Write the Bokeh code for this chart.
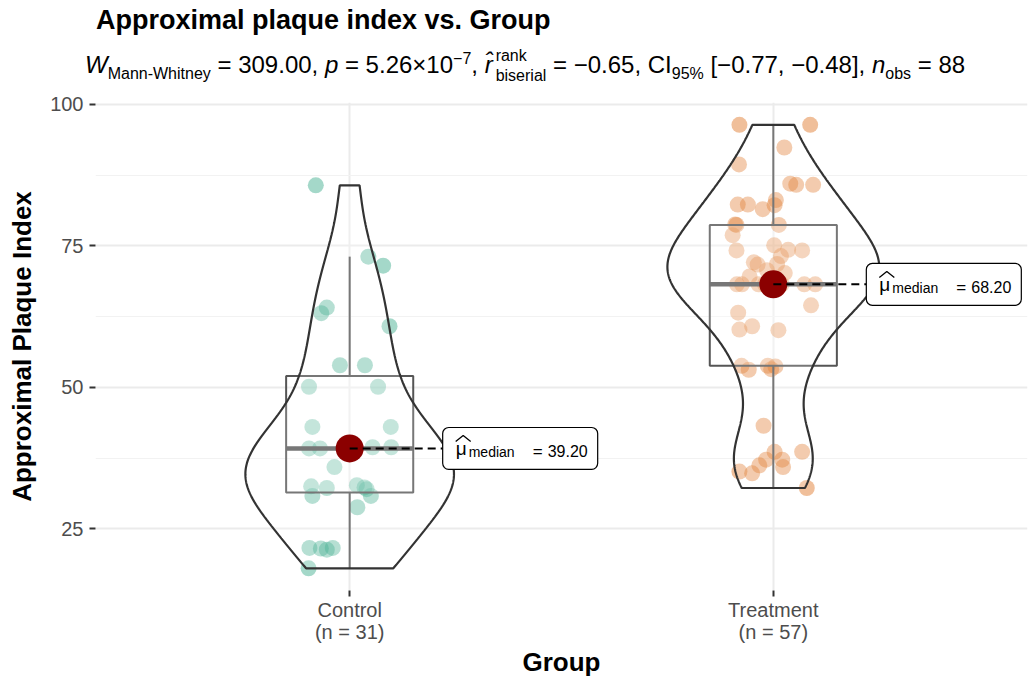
import numpy as np
from bokeh.plotting import figure
from bokeh.models import Range1d, FixedTicker, Div
from bokeh.layouts import column
from bokeh.core.properties import value
from bokeh.embed import file_html
from bokeh.resources import INLINE

# ---------------- data ----------------
groups = ["Control", "Treatment"]
group_colors = ["#1B9E77", "#D95F02"]

control_vals = [85.7, 73.1, 71.5, 64.1, 63.1, 60.8, 53.9, 53.9, 50.1, 50.1, 43.0, 43.0,
                39.2, 39.2, 39.4, 39.4, 39.2, 35.9, 32.5, 32.2, 32.7, 32.3, 32.0, 30.8,
                30.8, 28.8, 21.6, 21.5, 21.3, 21.6, 18.0]
control_jitter = [-0.080, 0.044, 0.079, -0.054, -0.067, 0.094, -0.023, 0.036, -0.096, 0.067,
                  -0.088, 0.097, -0.096, -0.070, 0.054, 0.098, 0.014, -0.036, -0.091, -0.054,
                  0.017, 0.035, 0.040, -0.088, 0.050, 0.018, -0.095, -0.068, -0.054, -0.040,
                  -0.097]

treatment_vals = [96.4, 96.4, 92.4, 89.4, 86.0, 85.8, 85.8, 82.3, 82.3, 81.5, 83.1, 82.2,
                  78.8, 78.7, 76.9, 78.7, 74.2, 75.1, 74.3, 74.2, 73.2, 72.1, 71.7, 71.8,
                  70.7, 70.2, 69.6, 68.2, 68.2, 68.2, 68.2, 68.2, 68.2, 68.2, 68.2, 68.2,
                  68.2, 64.5, 63.2, 60.2, 60.8, 60.1, 53.8, 53.1, 53.8, 53.7, 53.2, 43.2,
                  38.6, 38.6, 37.2, 37.2, 36.2, 35.9, 35.1, 34.8, 32.2]
treatment_jitter = [-0.080, 0.087, 0.026, -0.081, 0.040, 0.054, 0.094, -0.084, -0.060, -0.025,
                    0.006, 0.003, -0.090, -0.087, -0.096, 0.013, -0.087, 0.002, 0.035, 0.068,
                    0.018, -0.046, -0.037, 0.009, -0.015, 0.027, -0.056, -0.086, -0.074, -0.035,
                    0.073, 0.099, -0.020, -0.010, 0.000, 0.010, 0.020, 0.089, -0.083, -0.080,
                    -0.050, 0.012, -0.075, -0.058, -0.013, 0.005, -0.005, -0.023, 0.003, 0.068,
                    -0.017, 0.021, -0.033, 0.023, -0.080, -0.050, 0.079]

y_ticks = [25, 50, 75, 100]
y_minor = [12.5, 37.5, 62.5, 87.5]

title_text = "Approximal plaque index vs. Group"
x_label = "Group"
y_label = "Approximal Plaque Index"
w_stat = "309.00"
p_mant, p_exp = "5.26", "−7"
r_rb = "−0.65"
ci_lo, ci_hi = "−0.77", "−0.48"

all_vals = [control_vals, treatment_vals]
all_jit = [control_jitter, treatment_jitter]
n_obs = len(control_vals) + len(treatment_vals)

# ---------------- figure ----------------
FONT = "Liberation Sans"
DIV_H = 92
W, H = 1035, 587
MBL, MBR, MBT, MBB = 95, 8, 10, 87
x_lo, x_hi = 0.4, 2.6
y_lo, y_hi = 14.08, 100.35
px_x = (W - MBL - MBR) / (x_hi - x_lo)
px_y = (H - MBT - MBB) / (y_hi - y_lo)

p = figure(width=W, height=H, output_backend="svg", toolbar_location=None,
           x_range=Range1d(x_lo, x_hi), y_range=Range1d(y_lo, y_hi),
           min_border_left=MBL, min_border_right=MBR, min_border_top=MBT,
           min_border_bottom=MBB)
p.outline_line_color = None
p.background_fill_color = "white"

# grids
p.xgrid.ticker = FixedTicker(ticks=[1, 2])
p.xgrid.grid_line_color = "#EBEBEB"
p.xgrid.grid_line_width = 2
p.yaxis.ticker = FixedTicker(ticks=y_ticks, minor_ticks=y_minor)
p.ygrid.grid_line_color = "#EBEBEB"
p.ygrid.grid_line_width = 2
p.ygrid.minor_grid_line_color = "#F2F2F2"
p.ygrid.minor_grid_line_width = 1.2

# axes
p.xaxis.ticker = FixedTicker(ticks=[1, 2])
p.xaxis.major_label_overrides = {
    1: f"{groups[0]}\n(n = {len(control_vals)})",
    2: f"{groups[1]}\n(n = {len(treatment_vals)})",
}
for ax in (p.xaxis[0], p.yaxis[0]):
    ax.axis_line_color = None
    ax.major_tick_line_color = "#333333"
    ax.major_tick_line_width = 2
    ax.major_tick_in = 0
    ax.major_tick_out = 6
    ax.minor_tick_line_color = None
    ax.major_label_text_font = FONT
    ax.major_label_text_color = "#4D4D4D"
    ax.major_label_text_font_size = "20px"
    ax.axis_label_text_font = FONT
    ax.axis_label_text_font_style = "bold"
    ax.axis_label_text_color = "black"
    ax.axis_label_text_font_size = "26px"
p.xaxis.axis_label = x_label
p.yaxis.axis_label = y_label
p.xaxis.major_label_standoff = 2
p.xaxis.axis_label_standoff = 1
p.xaxis.major_label_text_line_height = 1.0
p.yaxis.major_label_standoff = 6
p.yaxis.axis_label_standoff = 10


def kde(data, n=512):
    x = np.asarray(data, dtype=float)
    nn = len(x)
    sd = x.std(ddof=1)
    q75, q25 = np.percentile(x, [75, 25])
    bw = 0.9 * min(sd, (q75 - q25) / 1.34) * nn ** (-0.2)
    grid = np.linspace(x.min(), x.max(), n)
    d = np.exp(-0.5 * ((grid[:, None] - x[None, :]) / bw) ** 2).sum(1) / (nn * bw * np.sqrt(2 * np.pi))
    return grid, d


dens = [kde(v) for v in all_vals]
dmax = max(d.max() for _, d in dens)

for i, (vals, jit, col) in enumerate(zip(all_vals, all_jit, group_colors)):
    cx = i + 1
    v = np.asarray(vals)
    p.scatter(x=cx + np.asarray(jit), y=v, size=16, fill_color=col, fill_alpha=0.4,
              line_color=None)

for i, vals in enumerate(all_vals):
    cx = i + 1
    v = np.asarray(vals)
    q1, med, q3 = np.percentile(v, [25, 50, 75])
    iqr = q3 - q1
    up = v[v <= q3 + 1.5 * iqr].max()
    lo = v[v >= q1 - 1.5 * iqr].min()
    p.segment(x0=[cx, cx], y0=[q3, q1], x1=[cx, cx], y1=[up, lo],
              line_color="#555555", line_width=2)
    p.quad(left=cx - 0.15, right=cx + 0.15, bottom=q1, top=q3, fill_color="white",
           fill_alpha=0.2, line_color="#555555", line_width=2)
    p.segment(x0=cx - 0.15, y0=med, x1=cx + 0.15, y1=med, line_color="#555555",
              line_width=4.5)
    g, d = dens[i]
    w = d / dmax * 0.25
    xs = np.concatenate([cx + w, (cx - w)[::-1]])
    ys = np.concatenate([g, g[::-1]])
    p.patch(xs, ys, fill_color="white", fill_alpha=0.2, line_color="#333333",
            line_width=2.2)

for i, vals in enumerate(all_vals):
    cx = i + 1
    med = float(np.median(vals))
    lab_left = cx + 93 / px_x
    lab_right = lab_left + 155 / px_x
    p.scatter(x=[cx], y=[med], size=28, fill_color="#8B0000", line_color=None)
    p.segment(x0=cx, y0=med, x1=lab_left, y1=med, line_color="black", line_width=2,
              line_dash="8 5")
    p.quad(left=lab_left, right=lab_right, bottom=med - 21 / px_y, top=med + 21 / px_y,
           fill_color="white", line_color="black", line_width=1.2, border_radius=6)
    # hat over mu
    p.line(x=[lab_left + 13 / px_x, lab_left + 20.5 / px_x, lab_left + 28 / px_x],
           y=[med + 7 / px_y, med + 13 / px_y, med + 7 / px_y],
           line_color="black", line_width=1.3)
    p.text(x=[lab_left], y=[med], text=["μ"], x_offset=13, y_offset=0,
           text_font=value(FONT), text_font_size="19px", text_color="black",
           text_baseline="alphabetic")
    p.text(x=[lab_left], y=[med], text=["median"], x_offset=26, y_offset=4,
           text_font=value(FONT), text_font_size="14px", text_color="black",
           text_baseline="alphabetic")
    p.text(x=[lab_left], y=[med], text=["="], x_offset=90, y_offset=3,
           text_font=value(FONT), text_font_size="17px", text_color="black",
           text_baseline="alphabetic")
    p.text(x=[lab_left], y=[med], text=[f"{med:.2f}"], x_offset=105, y_offset=3,
           text_font=value(FONT), text_font_size="16px", text_color="black",
           text_baseline="alphabetic")

# ---------------- title / subtitle ----------------
SS = "font-size:16px"
sub_html = (
    f"<i>W</i><sub style='{SS}'>Mann-Whitney</sub> = {w_stat}, "
    f"<i>p</i> = {p_mant}×10<sup style='{SS}'>{p_exp}</sup>, "
    "<i>r̂</i><span style='display:inline-block;vertical-align:-8px;line-height:20px;"
    f"margin-left:3px;{SS};'><span style='display:block'>rank</span>"
    "<span style='display:block'>biserial</span></span>"
    f" = {r_rb}, CI<sub style='{SS}'>95%</sub> [{ci_lo}, {ci_hi}], "
    f"<i>n</i><sub style='{SS}'>obs</sub> = {n_obs}"
)
html = (
    "<div style=\"position:relative;width:1035px;height:92px;font-family:'Liberation Sans',Arial,sans-serif;color:black;\">"
    f"<div style='position:absolute;left:96px;top:7px;font-size:27px;line-height:1;font-weight:bold;white-space:nowrap;'>{title_text}</div>"
    f"<div style='position:absolute;left:85px;top:46px;font-size:24px;line-height:1;white-space:nowrap;'>{sub_html}</div>"
    "</div>"
)
div = Div(text=html, width=1035, height=DIV_H, margin=(0, 0, 0, 0))

layout = column(div, p, spacing=0)
open("out.html", "w").write(file_html(layout, INLINE))
